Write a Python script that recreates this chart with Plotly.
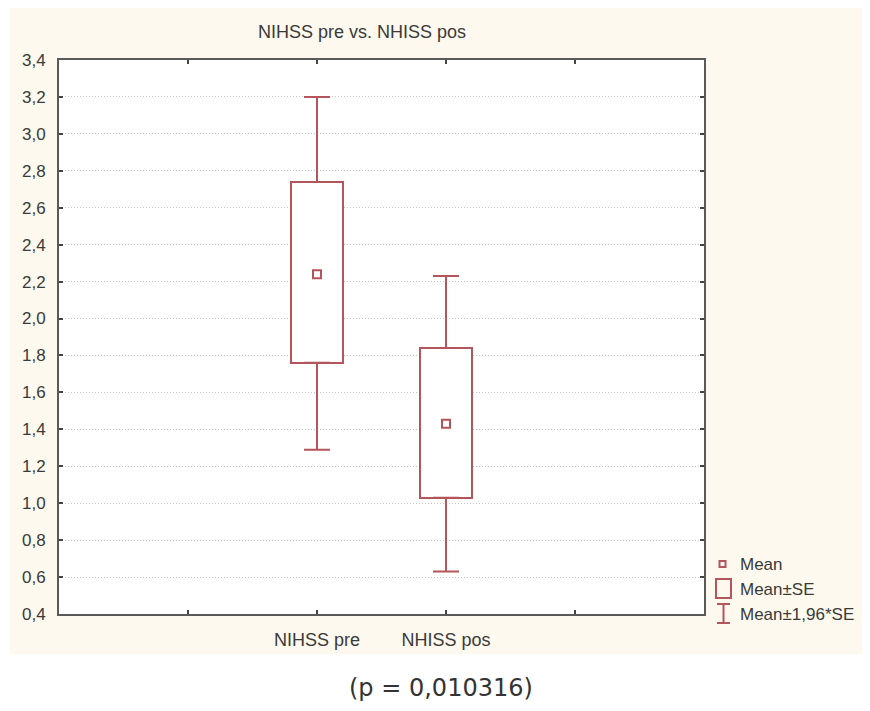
import plotly.graph_objects as go

# ---- data ----
categories = ["NIHSS pre", "NHISS pos"]
means = [2.24, 1.43]
se_low = [1.76, 1.03]
se_high = [2.74, 1.84]
ci_low = [1.29, 0.63]
ci_high = [3.20, 2.23]
y_ticks = [0.4, 0.6, 0.8, 1.0, 1.2, 1.4, 1.6, 1.8, 2.0, 2.2, 2.4, 2.6, 2.8, 3.0, 3.2, 3.4]
x_ticks = [1, 2, 3, 4]
x_ticktext = ["", categories[0], categories[1], ""]
cat_pos = [2, 3]

RED = "#B4545B"
TXT = "#3A3A3A"
CREAM = "#FDF9EE"
FONT = "Liberation Sans, Arial, sans-serif"

OFF = 8                  # page body margin
W, H = 854, 695          # figure size (fits in window with body margin)
L, R, T, B = 59, 704, 60, 614  # plot area in page px


def px(x):
    return (x - L) / (R - L)


def py(y):
    return (B - y) / (B - T)


fig = go.Figure()

# Mean ± SE boxes
fig.add_trace(go.Bar(
    x=cat_pos,
    y=[h - l for h, l in zip(se_high, se_low)],
    base=se_low,
    width=0.4,
    marker=dict(color="white", line=dict(color=RED, width=2)),
    showlegend=False,
    hoverinfo="skip",
))

# upper whiskers (box top to mean+1.96SE)
fig.add_trace(go.Scatter(
    x=cat_pos, y=se_high, mode="markers",
    marker=dict(color="rgba(0,0,0,0)", size=1),
    error_y=dict(type="data", symmetric=False,
                 array=[h - s for h, s in zip(ci_high, se_high)],
                 arrayminus=[0, 0], color=RED, thickness=2, width=13),
    showlegend=False, hoverinfo="skip",
))
# lower whiskers
fig.add_trace(go.Scatter(
    x=cat_pos, y=se_low, mode="markers",
    marker=dict(color="rgba(0,0,0,0)", size=1),
    error_y=dict(type="data", symmetric=False,
                 array=[0, 0],
                 arrayminus=[s - l for s, l in zip(se_low, ci_low)],
                 color=RED, thickness=2, width=13),
    showlegend=False, hoverinfo="skip",
))
# means
fig.add_trace(go.Scatter(
    x=cat_pos, y=means, mode="markers",
    marker=dict(symbol="square-open", size=8, color=RED, line=dict(width=2, color=RED)),
    showlegend=False,
))

shapes = [
    # cream panel
    dict(type="rect", xref="paper", yref="paper", x0=px(10), x1=px(880), y0=py(654), y1=py(8),
         fillcolor=CREAM, line=dict(width=0), layer="below"),
    # white plot area
    dict(type="rect", xref="paper", yref="paper", x0=0, x1=1, y0=0, y1=1,
         fillcolor="white", line=dict(width=0), layer="below"),
    # legend icons
    dict(type="rect", xref="paper", yref="paper", x0=px(719.5), x1=px(725.5), y0=py(567), y1=py(561),
         line=dict(color=RED, width=2)),
    dict(type="rect", xref="paper", yref="paper", x0=px(716), x1=px(731), y0=py(598), y1=py(579),
         line=dict(color=RED, width=2)),
    dict(type="line", xref="paper", yref="paper", x0=px(723.5), x1=px(723.5), y0=py(623), y1=py(604),
         line=dict(color=RED, width=2)),
    dict(type="line", xref="paper", yref="paper", x0=px(717), x1=px(730), y0=py(604), y1=py(604),
         line=dict(color=RED, width=2)),
    dict(type="line", xref="paper", yref="paper", x0=px(717), x1=px(730), y0=py(623), y1=py(623),
         line=dict(color=RED, width=2)),
]

legend_items = [("Mean", 564), ("Mean±SE", 589), ("Mean±1,96*SE", 614)]
annotations = [
    dict(text="NIHSS pre vs. NHISS pos", xref="paper", yref="paper", x=px(362), y=py(32),
         showarrow=False, xanchor="center", yanchor="middle",
         font=dict(family=FONT, size=18, color=TXT)),
    dict(text="(p = 0,010316)", xref="paper", yref="paper", x=px(441), y=py(688),
         showarrow=False, xanchor="center", yanchor="middle",
         font=dict(family="DejaVu Sans, Verdana, sans-serif", size=24, color="#333333")),
]
for label, yy in legend_items:
    annotations.append(dict(text=label, xref="paper", yref="paper", x=px(738), y=py(yy),
                            showarrow=False, xanchor="left", yanchor="middle",
                            font=dict(family=FONT, size=17, color=TXT)))

fig.update_layout(
    width=W, height=H,
    margin=dict(l=L - OFF, r=W - (R - OFF), t=T - OFF, b=H - (B - OFF), pad=0),
    paper_bgcolor="white",
    plot_bgcolor="rgba(0,0,0,0)",
    separators=",.",
    bargap=0,
    shapes=shapes,
    annotations=annotations,
    showlegend=False,
    xaxis=dict(
        range=[0, 5], tickvals=x_ticks, ticktext=x_ticktext,
        showgrid=False, zeroline=False,
        showline=True, linecolor="#5A5A5A", linewidth=2, mirror="ticks",
        ticks="inside", ticklen=4, tickwidth=1.5, tickcolor="#444",
        tickfont=dict(family=FONT, size=18, color=TXT),
        ticklabelstandoff=8,
    ),
    yaxis=dict(
        range=[0.4, 3.4], tickvals=y_ticks, tickformat=".1f",
        showgrid=True, gridcolor="#C4C4C4", griddash="1px,2px", gridwidth=1,
        zeroline=False,
        showline=True, linecolor="#5A5A5A", linewidth=2, mirror="ticks",
        ticks="inside", ticklen=4, tickwidth=1.5, tickcolor="#444",
        tickfont=dict(family=FONT, size=17, color=TXT),
        ticklabelstandoff=8,
    ),
)

fig.write_html("out.html")
